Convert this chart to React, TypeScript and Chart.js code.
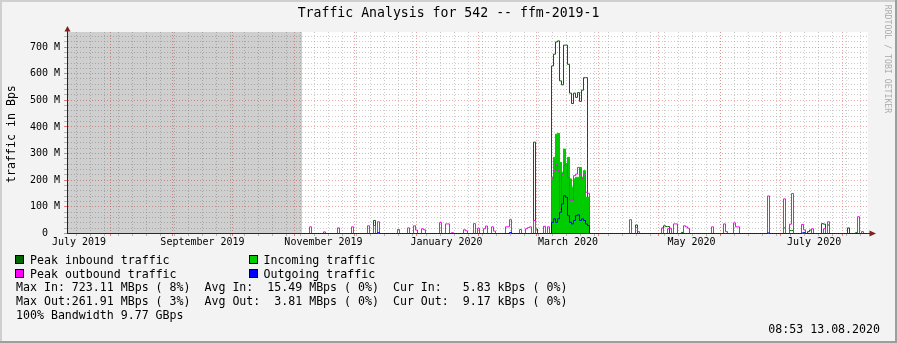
import React, { useEffect, useRef } from "react";
import { Chart, registerables } from "chart.js";

Chart.register(...registerables);

// ---------- time axis: days since 2019-07-10 12:00 (1 day = 2 px) ----------
const X_MIN = -0.25;
const X_MAX = 400.25;
const unknownUntilDay = 117.3;
const firstDataDay = 117;
const lastDataDay = 400;

const monthGridDays = [21.5, 52.5, 82.5, 113.5, 143.5, 174.5, 205.5, 234.5, 265.5, 295.5, 326.5, 356.5, 387.5];
const firstWeekGridDay = 4.3;
const monthLabels = ["July 2019", "September 2019", "November 2019", "January 2020", "March 2020", "May 2020", "July 2020"];
const monthLabelDays = [5.75, 67.5, 128, 189.5, 250.25, 312, 373.3];

// ---------- value axis (bytes per second) ----------
const Y_MIN = 1.877e6;
const Y_MAX = 756.4e6;
const yMinorStep = 20e6;
const yMajorStep = 100e6;
const yTopTick = 740e6;

// ---------- series (values in MBps) ----------
const marchStartDay = 242;
const marchPeakInbound = [629, 673, 719, 723, 573, 558, 707, 707, 635, 527, 488, 527, 511, 529, 496, 538, 585, 585];
const marchIncoming = [211, 286, 373, 376, 267, 230, 317, 261, 286, 205, 174, 205, 211, 211, 248, 211, 236, 136, 136];
const marchPeakOutbound = [205, 236, 258, 236, 92, 223, 255, 262, 211, 125, 125, 217, 223, 248, 223, 205, 223, 155, 151];
const marchOutgoing = [42, 55, 42, 55, 80, 111, 142, 136, 67, 42, 36, 49, 67, 70, 49, 55, 49, 36, 30];

const peakInboundSpikes: [number, number][] = [
  [153, 49], [233, 343], [234, 17], [284, 32], [298, 29], [299, 26], [300, 26], [307, 4],
  [358, 21], [361, 11], [362, 11], [368, 4], [370, 7], [371, 13], [377, 37], [378, 35],
  [380, 32], [390, 21], [394, 3],
];
const incomingSpikes: [number, number][] = [];
const peakOutboundSpikes: [number, number][] = [
  [121, 25], [128, 6], [135, 21], [142, 25], [150, 29], [153, 30], [155, 44], [165, 15],
  [170, 21], [173, 29], [174, 13], [177, 18], [178, 14], [186, 41], [189, 36], [190, 36],
  [192, 3], [198, 14], [199, 10], [203, 37], [205, 20], [208, 18], [209, 28], [212, 25],
  [213, 9], [219, 25], [220, 25], [221, 52], [226, 15], [229, 18], [230, 22], [231, 25],
  [233, 49], [238, 27], [240, 25], [281, 52], [284, 22], [285, 7], [297, 21], [300, 18],
  [301, 20], [303, 36], [304, 36], [308, 29], [309, 25], [310, 20], [322, 25], [328, 36],
  [329, 7], [333, 40], [334, 25], [335, 25], [350, 141], [358, 130], [361, 35], [362, 150],
  [367, 34], [368, 14], [372, 18], [378, 18], [380, 44], [395, 63], [397, 7],
];
const outgoingSpikes: [number, number][] = [[155, 3], [221, 4], [350, 2], [367, 2], [368, 2]];

// ---------- colours ----------
const C_PEAK_IN = "#006600";
const C_IN = "#00cc00";
const C_PEAK_OUT = "#ff00ff";
const C_OUT = "#0000ff";
const C_MINOR = "rgba(143,143,143,0.45)";
const C_MAJOR = "rgba(222,79,79,0.5)";
const C_MINOR_TICK = "rgba(143,143,143,0.6)";
const C_MAJOR_TICK = "rgba(222,79,79,0.7)";
const C_AXIS = "#2a2a2a";
const C_ARROW = "#801f1f";
const FONT = "'DejaVu Sans Mono', monospace";

function buildSeries(spikes: [number, number][], block: number[]) {
  const vals = new Map<number, number>();
  spikes.forEach(([d, v]) => vals.set(d, v));
  block.forEach((v, i) => vals.set(marchStartDay + i, v));
  const pts: { x: number; y: number }[] = [];
  for (let d = firstDataDay; d < lastDataDay; d++) pts.push({ x: d, y: (vals.get(d) ?? 0) * 1e6 });
  pts.push({ x: lastDataDay, y: pts[pts.length - 1].y });
  return pts;
}

const weekGridDays: number[] = [];
for (let d = firstWeekGridDay; d < X_MAX; d += 7) weekGridDays.push(d);

const xTicks = [...weekGridDays, ...monthGridDays, ...monthLabelDays]
  .filter((v) => v >= X_MIN && v <= X_MAX)
  .sort((a, b) => a - b);
const xKind = (v: number) =>
  monthGridDays.includes(v) ? "major" : weekGridDays.includes(v) ? "minor" : "label";

const yTicks: number[] = [];
for (let v = 0; v <= yTopTick + 1; v += yMinorStep) yTicks.push(v);
const yIsMajor = (v: number) => Math.round(v / 1e6) % Math.round(yMajorStep / 1e6) === 0;

const decorPlugin = {
  id: "decor",
  beforeDraw(chart: any) {
    const { ctx, chartArea: a, width, height } = chart;
    ctx.save();
    ctx.fillStyle = "#f3f3f3";
    ctx.fillRect(0, 0, width, height);
    ctx.fillStyle = "#ffffff";
    ctx.fillRect(a.left, a.top, a.right - a.left, a.bottom - a.top);
    ctx.restore();
  },
  afterDraw(chart: any) {
    const { ctx, chartArea: a, width, height } = chart;
    ctx.save();
    ctx.strokeStyle = C_AXIS;
    ctx.lineWidth = 1;
    ctx.beginPath();
    ctx.moveTo(a.left + 0.5, a.top);
    ctx.lineTo(a.left + 0.5, a.top - 1);
    ctx.moveTo(a.right, a.bottom + 0.5);
    ctx.lineTo(a.right + 2, a.bottom + 0.5);
    ctx.stroke();
    ctx.fillStyle = C_ARROW;
    ctx.beginPath();
    ctx.moveTo(a.left + 0.5, a.top - 6);
    ctx.lineTo(a.left + 3.5, a.top - 0.5);
    ctx.lineTo(a.left - 2.5, a.top - 0.5);
    ctx.closePath();
    ctx.fill();
    ctx.beginPath();
    ctx.moveTo(a.right + 8, a.bottom + 0.5);
    ctx.lineTo(a.right + 1.5, a.bottom - 2.5);
    ctx.lineTo(a.right + 1.5, a.bottom + 3.5);
    ctx.closePath();
    ctx.fill();
    ctx.fillStyle = "#cfcfcf";
    ctx.fillRect(0, 0, width, 2);
    ctx.fillRect(0, 0, 2, height);
    ctx.fillStyle = "#9e9e9e";
    ctx.fillRect(0, height - 2, width, 2);
    ctx.fillRect(width - 2, 0, 2, height);
    ctx.restore();
  },
};

const legendItems = [
  { color: C_PEAK_IN, label: "Peak inbound traffic", x: 15, y: 255 },
  { color: C_IN, label: "Incoming traffic", x: 248.5, y: 255 },
  { color: C_PEAK_OUT, label: "Peak outbound traffic", x: 15, y: 269 },
  { color: C_OUT, label: "Outgoing traffic", x: 248.5, y: 269 },
];
const statLines = [
  "Max In: 723.11 MBps ( 8%)  Avg In:  15.49 MBps ( 0%)  Cur In:   5.83 kBps ( 0%)",
  "Max Out:261.91 MBps ( 3%)  Avg Out:  3.81 MBps ( 0%)  Cur Out:  9.17 kBps ( 0%)",
  "100% Bandwidth 9.77 GBps",
];

export default function App() {
  const ref = useRef<HTMLCanvasElement>(null);

  useEffect(() => {
    Chart.defaults.font.family = FONT;
    const lineBase = {
      type: "line" as const,
      stepped: "before" as const,
      pointRadius: 0,
      borderWidth: 1,
      fill: false,
      clip: false as any,
      tension: 0,
    };
    const chart = new Chart(ref.current!, {
      type: "line",
      data: {
        datasets: [
          {
            ...lineBase,
            label: "unknown",
            data: [{ x: X_MIN, y: Y_MAX }, { x: unknownUntilDay, y: Y_MAX }],
            stepped: false,
            fill: "start",
            backgroundColor: "rgba(0,0,0,0.19)",
            borderColor: "transparent",
            clip: 0 as any,
            order: 10,
          },
          { ...lineBase, label: "Peak inbound traffic", data: buildSeries(peakInboundSpikes, marchPeakInbound), borderColor: C_PEAK_IN, order: 4 },
          {
            ...lineBase,
            label: "Incoming traffic",
            data: buildSeries(incomingSpikes, marchIncoming),
            borderColor: C_IN,
            backgroundColor: C_IN,
            fill: "origin",
            order: 3,
          },
          { ...lineBase, label: "Peak outbound traffic", data: buildSeries(peakOutboundSpikes, marchPeakOutbound), borderColor: C_PEAK_OUT, order: 2 },
          { ...lineBase, label: "Outgoing traffic", data: buildSeries(outgoingSpikes, marchOutgoing), borderColor: C_OUT, order: 1 },
        ],
      },
      options: {
        animation: false,
        responsive: false,
        events: [],
        layout: { padding: { top: 32, right: 29, left: 0, bottom: 0 } },
        plugins: { legend: { display: false }, tooltip: { enabled: false }, title: { display: false } },
        scales: {
          x: {
            type: "linear",
            min: X_MIN,
            max: X_MAX,
            bounds: "data",
            afterBuildTicks: (s: any) => {
              s.ticks = xTicks.map((v) => ({ value: v }));
            },
            afterFit: (s: any) => {
              s.height = 110;
            },
            grid: {
              lineWidth: 1,
              drawTicks: true,
              tickLength: 3,
              color: (c: any) => {
                const k = xKind(c.tick?.value);
                return k === "major" ? C_MAJOR : k === "minor" ? C_MINOR : "transparent";
              },
              tickColor: (c: any) => {
                const k = xKind(c.tick?.value);
                return k === "major" ? C_MAJOR_TICK : k === "minor" ? C_MINOR_TICK : "transparent";
              },
            },
            border: { display: true, color: C_AXIS, width: 1, dash: [1, 2] },
            ticks: {
              autoSkip: false,
              maxRotation: 0,
              minRotation: 0,
              padding: 0,
              color: "#000",
              font: { family: FONT, size: 10 },
              callback: (v: any) => {
                const i = monthLabelDays.indexOf(Number(v));
                return i >= 0 ? monthLabels[i] : "";
              },
            },
          },
          y: {
            type: "linear",
            min: Y_MIN,
            max: Y_MAX,
            bounds: "data",
            afterBuildTicks: (s: any) => {
              s.ticks = yTicks.map((v) => ({ value: v }));
            },
            afterFit: (s: any) => {
              s.width = 67;
            },
            grid: {
              lineWidth: 1,
              drawTicks: true,
              tickLength: 3,
              color: (c: any) => (c.tick && yIsMajor(c.tick.value) ? C_MAJOR : C_MINOR),
              tickColor: (c: any) => (c.tick && yIsMajor(c.tick.value) ? C_MAJOR_TICK : C_MINOR_TICK),
            },
            border: { display: true, color: C_AXIS, width: 1, dash: [1, 2] },
            ticks: {
              autoSkip: false,
              padding: 4,
              color: "#000",
              font: { family: FONT, size: 10 },
              callback: (v: any) => {
                const n = Number(v);
                if (!yIsMajor(n)) return "";
                return n === 0 ? "0  " : `${Math.round(n / 1e6)} M`;
              },
            },
          },
        },
      },
      plugins: [decorPlugin],
    } as any);
    return () => chart.destroy();
  }, []);

  const textBase: React.CSSProperties = {
    position: "absolute",
    fontFamily: FONT,
    fontSize: 11.6,
    lineHeight: "14px",
    whiteSpace: "pre",
    color: "#000",
  };

  return (
    <div style={{ position: "absolute", left: 0, top: 0, width: 897, height: 343, overflow: "hidden" }}>
      <canvas ref={ref} width={897} height={343} style={{ position: "absolute", left: 0, top: 0, width: 897, height: 343 }} />
      <div style={{ ...textBase, left: 0, width: 897, top: 5, fontSize: 13.2, lineHeight: "16px", textAlign: "center" }}>
        Traffic Analysis for 542 -- ffm-2019-1
      </div>
      <div
        style={{
          ...textBase,
          width: 140,
          textAlign: "center",
          left: 11 - 70,
          top: 134 - 7,
          transform: "rotate(-90deg)",
        }}
      >
        traffic in Bps
      </div>
      <div
        style={{
          ...textBase,
          fontSize: 8.2,
          lineHeight: "10px",
          width: 140,
          textAlign: "center",
          left: 888 - 70,
          top: 59 - 5,
          color: "#ababab",
          transform: "rotate(90deg)",
        }}
      >
        RRDTOOL / TOBI OETIKER
      </div>
      {legendItems.map((it) => (
        <React.Fragment key={it.label}>
          <div
            style={{
              position: "absolute",
              left: it.x,
              top: it.y,
              width: 9,
              height: 9,
              boxSizing: "border-box",
              border: "1px solid #000",
              background: it.color,
            }}
          />
          <div style={{ ...textBase, left: it.x + 15, top: it.y - 2 }}>{it.label}</div>
        </React.Fragment>
      ))}
      {statLines.map((s, i) => (
        <div key={i} style={{ ...textBase, left: 16, top: 280.2 + i * 13.7 }}>
          {s}
        </div>
      ))}
      <div style={{ ...textBase, right: 17, top: 321.7 }}>08:53 13.08.2020</div>
    </div>
  );
}
